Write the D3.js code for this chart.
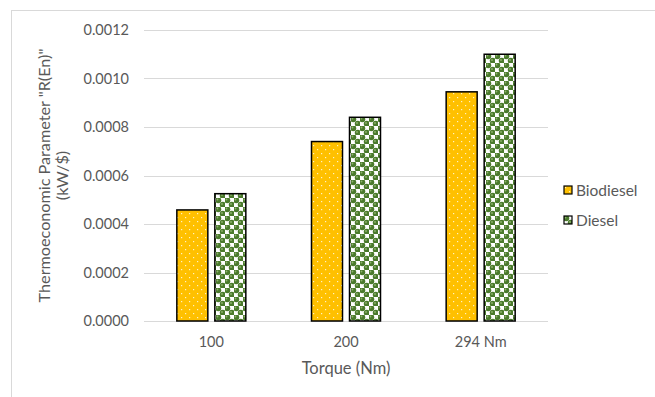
<!DOCTYPE html>
<html>
<head>
<meta charset="utf-8">
<script src="https://cdn.jsdelivr.net/npm/d3@7/dist/d3.min.js"></script>
<style>
  html, body { margin: 0; padding: 0; background: #fff; }
  svg { display: block; }
  text { font-family: Lato, "Open Sans", sans-serif; fill: #595959; }
</style>
</head>
<body>
<script>
// Torque levels and thermoeconomic parameter R(En) per fuel
const categories = ["100", "200", "294 Nm"];
const seriesNames = ["Biodiesel", "Diesel"];
const biodiesel = [0.000458, 0.00074, 0.000945];
const diesel = [0.000525, 0.00084, 0.0011];
const yTicks = [0, 0.0002, 0.0004, 0.0006, 0.0008, 0.0010, 0.0012];

const W = 655, H = 397;
const margin = { left: 144, right: 107, top: 30, bottom: 76 };

const svg = d3.select("body").append("svg").attr("width", W).attr("height", H);

// Patterned fills
const defs = svg.append("defs");
const pDots = defs.append("pattern").attr("id", "pat-bio")
  .attr("patternUnits", "userSpaceOnUse").attr("width", 8).attr("height", 8);
pDots.append("rect").attr("width", 8).attr("height", 8).attr("fill", "#FFC000");
pDots.append("rect").attr("x", 1).attr("y", 1).attr("width", 1.2).attr("height", 1.2).attr("fill", "#fff3c4");
pDots.append("rect").attr("x", 5).attr("y", 5).attr("width", 1.2).attr("height", 1.2).attr("fill", "#fff3c4");

const pSph = defs.append("pattern").attr("id", "pat-dsl")
  .attr("patternUnits", "userSpaceOnUse").attr("width", 9).attr("height", 9);
pSph.append("rect").attr("width", 9).attr("height", 9).attr("fill", "#ffffff");
pSph.append("circle").attr("cx", 2.25).attr("cy", 2.25).attr("r", 3).attr("fill", "#4a7a2c");
pSph.append("circle").attr("cx", 6.75).attr("cy", 6.75).attr("r", 3).attr("fill", "#4a7a2c");
pSph.append("circle").attr("cx", 1.5).attr("cy", 1.5).attr("r", 0.9).attr("fill", "#8fb36e");
pSph.append("circle").attr("cx", 6).attr("cy", 6).attr("r", 0.9).attr("fill", "#8fb36e");
const fills = ["url(#pat-bio)", "url(#pat-dsl)"];

// Chart frame
svg.append("rect").attr("x", 11.5).attr("y", 10.5).attr("width", 660).attr("height", 400)
  .attr("fill", "none").attr("stroke", "#d9d9d9").attr("stroke-width", 1);

const x0 = d3.scaleBand().domain(categories).range([margin.left, W - margin.right]);
const y = d3.scaleLinear().domain([0, 0.0012]).range([H - margin.bottom, margin.top]);

// Gridlines
svg.append("g").selectAll("line").data(yTicks).join("line")
  .attr("x1", margin.left).attr("x2", W - margin.right)
  .attr("y1", d => Math.round(y(d)) + 0.5).attr("y2", d => Math.round(y(d)) + 0.5)
  .attr("stroke", "#d9d9d9").attr("stroke-width", 1);

// Y tick labels
svg.append("g").selectAll("text").data(yTicks).join("text")
  .attr("x", 129).attr("y", d => y(d) + 5)
  .attr("text-anchor", "end").attr("font-size", 14.5)
  .text(d => d3.format(".4f")(d));

// Bars
const barW = 31, gap = 7;
const data = categories.map((c, i) => [biodiesel[i], diesel[i]]);
const grp = svg.append("g").selectAll("g").data(data).join("g");
grp.selectAll("rect").data((d, i) => d.map((v, s) => ({ v, s, c: categories[i] }))).join("rect")
  .attr("x", d => x0(d.c) + x0.bandwidth() / 2 - barW - gap / 2 + d.s * (barW + gap))
  .attr("y", d => y(d.v))
  .attr("width", barW)
  .attr("height", d => y(0) - y(d.v))
  .attr("fill", d => fills[d.s])
  .attr("stroke", "#000").attr("stroke-width", 1.5);

// X tick labels
svg.append("g").selectAll("text").data(categories).join("text")
  .attr("x", d => x0(d) + x0.bandwidth() / 2).attr("y", 347)
  .attr("text-anchor", "middle").attr("font-size", 14.5)
  .text(d => d);

// Axis titles
svg.append("text").attr("x", (margin.left + W - margin.right) / 2).attr("y", 374)
  .attr("text-anchor", "middle").attr("font-size", 16.5).text("Torque (Nm)");

const yt = svg.append("text").attr("transform", `translate(50,${(y(0) + y(0.0012)) / 2}) rotate(-90)`)
  .attr("text-anchor", "middle").attr("font-size", 16.2);
yt.append("tspan").attr("x", 0).attr("dy", 0).text('Thermoeconomic Parameter "R(En)"');
yt.append("tspan").attr("x", 0).attr("dy", 18).text("(kW/$)");

// Legend
const lg = svg.append("g").selectAll("g").data(seriesNames).join("g")
  .attr("transform", (d, i) => `translate(564,${186 + i * 30})`);
lg.append("rect").attr("width", 8).attr("height", 8)
  .attr("fill", (d, i) => fills[i]).attr("stroke", "#000").attr("stroke-width", 1.2);
lg.append("text").attr("x", 12).attr("y", 10).attr("font-size", 15.5).text(d => d);
</script>
</body>
</html>
